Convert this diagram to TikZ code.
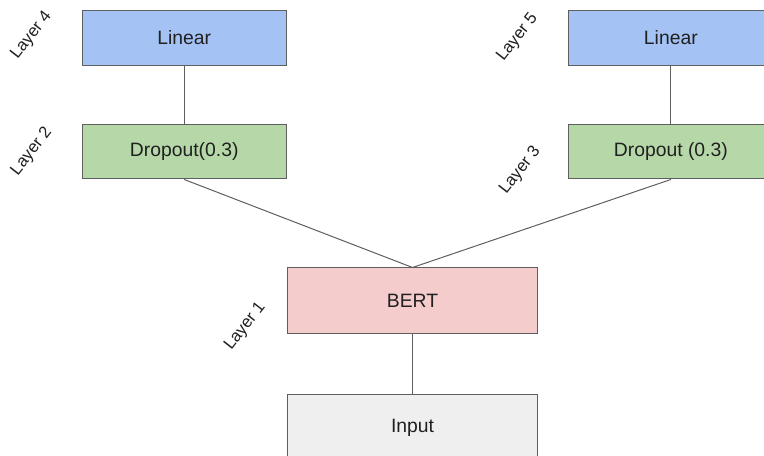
\documentclass[tikz,border=0pt]{standalone}
\usepackage{fontspec}
\setmainfont{Liberation Sans}
\usepackage{tikz}
\usetikzlibrary{positioning}
\usepackage{xcolor}

\definecolor{linblue}{HTML}{A4C2F4}
\definecolor{dropgreen}{HTML}{B6D7A8}
\definecolor{bertpink}{HTML}{F4CCCC}
\definecolor{inputgray}{HTML}{EFEFEF}
\definecolor{edgegray}{HTML}{5F5F5F}
\definecolor{textdark}{HTML}{202020}

\begin{document}
\begin{tikzpicture}
    [line width=0.75pt, edge/.style={draw=edgegray, line width=0.75pt},
    every node/.style={font=\fontsize{14.5}{17}\selectfont, text=textdark}]
    % Define styles for the boxes and the layer labels
    \tikzstyle{box} = [draw=edgegray, rectangle, inner sep=0pt]
    \tikzstyle{small} = [box, minimum width=153pt, minimum height=41pt]
    \tikzstyle{wide} = [box, minimum width=188pt, minimum height=49.5pt]
    \tikzstyle{layer} = [rotate=52, font=\fontsize{12.5}{15}\selectfont]

    % Frame of the picture
    \useasboundingbox (-309.4pt,-116.25pt) rectangle (263.6pt,225.75pt);
    \fill[white] (-309.4pt,-116.25pt) rectangle (263.6pt,225.75pt);
    \clip (-309.4pt,-116.25pt) rectangle (263.6pt,225.75pt);

    % Nodes placement
    \node [wide, fill=bertpink] (bert) {BERT};
    \node [wide, fill=inputgray, below=45pt of bert] (input) {Input};
    \node [small, fill=dropgreen, above left=66pt and 0pt of bert] (dropL) {Dropout(0.3)};
    \node [small, fill=dropgreen, above right=66pt and 22.5pt of bert] (dropR) {Dropout (0.3)};
    \node [small, fill=linblue, above=43.5pt of dropL] (linL) {Linear};
    \node [small, fill=linblue, above=43.5pt of dropR] (linR) {Linear};

    % Layer labels
    \node [layer] (lay4) at ([xshift=-37.5pt, yshift=2pt]linL.west) {Layer 4};
    \node [layer] (lay2) at ([xshift=-37.5pt]dropL.west) {Layer 2};
    \node [layer] (lay5) at ([xshift=-38pt, yshift=0.5pt]linR.west) {Layer 5};
    \node [layer] (lay3) at ([xshift=-36pt, yshift=-14pt]dropR.west) {Layer 3};
    \node [layer] (lay1) at ([xshift=-31pt, yshift=-19pt]bert.west) {Layer 1};

    % Draw edges
    \draw[edge] (linL) -- (dropL);
    \draw[edge] (linR) -- (dropR);
    \draw[edge] (dropL.south) -- (bert.north);
    \draw[edge] (dropR.south) -- (bert.north);
    \draw[edge] (bert) -- (input);
\end{tikzpicture}
\end{document}
